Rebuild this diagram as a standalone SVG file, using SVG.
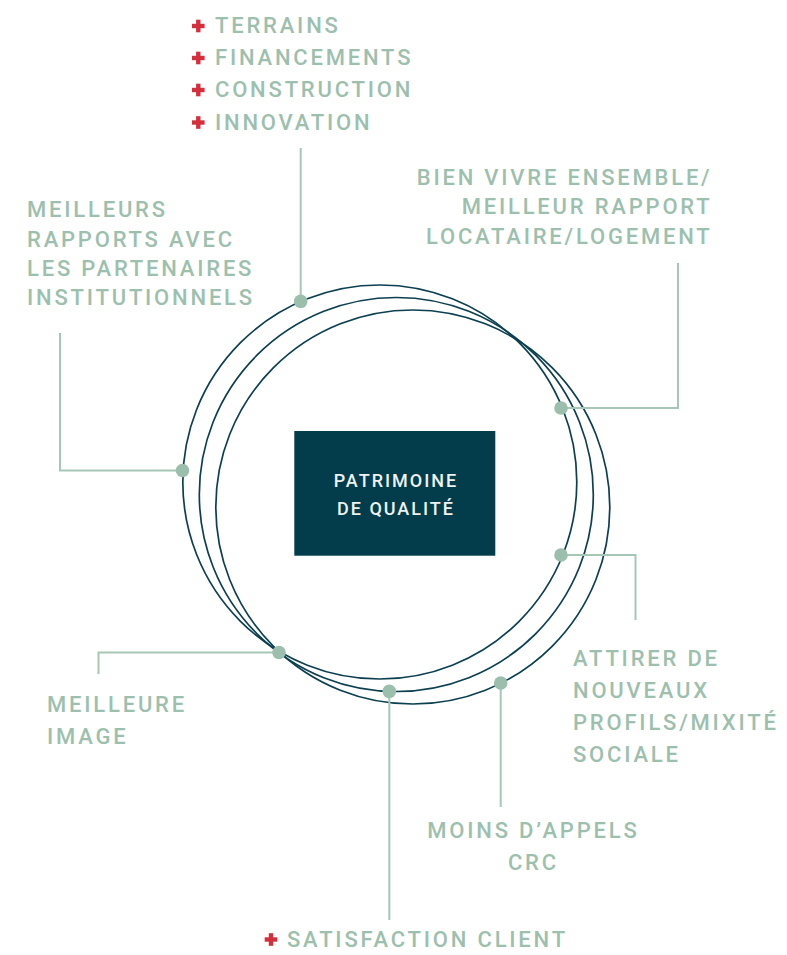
<svg xmlns="http://www.w3.org/2000/svg" width="787" height="955" viewBox="0 0 787 955">
<defs>
<style>
.lbl{font-family:Roboto,"Liberation Sans",sans-serif;font-weight:500;font-size:22px;fill:#9dc0ae;letter-spacing:2.8px}
.box{font-family:Roboto,"Liberation Sans",sans-serif;font-weight:500;font-size:18px;fill:#eef2f1;letter-spacing:2px}
.ring{fill:none;stroke:#0c4050;stroke-width:1.7}
.con{fill:none;stroke:#a6c7b6;stroke-width:2}
.dot{fill:#9cbfad}
</style>
<g id="plus"><rect x="-6.3" y="-2.2" width="12.6" height="4.4" fill="#d42f3c"/><rect x="-2.2" y="-6.3" width="4.4" height="12.6" fill="#d42f3c"/></g>
</defs>
<rect width="787" height="955" fill="#ffffff"/>
<g id="rings">
<circle class="ring" cx="379.8" cy="482" r="197"/>
<circle class="ring" cx="396.3" cy="494.5" r="197"/>
<circle class="ring" cx="412.8" cy="507" r="197"/>
</g>
<g id="connectors">
<polyline class="con" points="300.7,301.4 300.7,148"/>
<polyline class="con" points="182.5,470.5 60,470.5 60,333"/>
<polyline class="con" points="561,408 678,408 678,263"/>
<polyline class="con" points="561,555 635.5,555 635.5,620"/>
<polyline class="con" points="279,652.5 98.5,652.5 98.5,674"/>
<polyline class="con" points="389.3,691.4 389.3,920"/>
<polyline class="con" points="500.7,683 500.7,807"/>
<circle class="dot" cx="300.7" cy="301.4" r="6.8"/>
<circle class="dot" cx="182.5" cy="470.5" r="6.8"/>
<circle class="dot" cx="561" cy="408" r="6.8"/>
<circle class="dot" cx="561" cy="555" r="6.8"/>
<circle class="dot" cx="279" cy="652.5" r="6.8"/>
<circle class="dot" cx="389.3" cy="691.4" r="6.8"/>
<circle class="dot" cx="500.7" cy="683" r="6.8"/>
</g>
<g id="center">
<rect x="294.3" y="431" width="201" height="124.7" fill="#033c4b"/>
<text class="box" x="396" y="487" text-anchor="middle">PATRIMOINE</text>
<text class="box" x="396" y="515" text-anchor="middle">DE QUALITÉ</text>
</g>
<g id="top-list">
<use href="#plus" x="198.3" y="26"/>
<use href="#plus" x="198.3" y="58"/>
<use href="#plus" x="198.3" y="90"/>
<use href="#plus" x="198.3" y="122.5"/>
<text class="lbl" x="215" y="33">TERRAINS</text>
<text class="lbl" x="215" y="65">FINANCEMENTS</text>
<text class="lbl" x="215" y="97">CONSTRUCTION</text>
<text class="lbl" x="215" y="129.5">INNOVATION</text>
</g>
<g id="partenaires">
<text class="lbl" x="27" y="217">MEILLEURS</text>
<text class="lbl" x="27" y="247">RAPPORTS AVEC</text>
<text class="lbl" x="27" y="276">LES PARTENAIRES</text>
<text class="lbl" x="27" y="305">INSTITUTIONNELS</text>
</g>
<g id="vivre-ensemble">
<text class="lbl" x="712.5" y="185" text-anchor="end">BIEN VIVRE ENSEMBLE/</text>
<text class="lbl" x="712.5" y="214" text-anchor="end">MEILLEUR RAPPORT</text>
<text class="lbl" x="712.5" y="244" text-anchor="end">LOCATAIRE/LOGEMENT</text>
</g>
<g id="mixite">
<text class="lbl" x="573" y="666">ATTIRER DE</text>
<text class="lbl" x="573" y="697.5">NOUVEAUX</text>
<text class="lbl" x="573" y="729.5">PROFILS/MIXITÉ</text>
<text class="lbl" x="573" y="761.5">SOCIALE</text>
</g>
<g id="appels">
<text class="lbl" x="533.4" y="838" text-anchor="middle">MOINS D’APPELS</text>
<text class="lbl" x="533.4" y="870" text-anchor="middle">CRC</text>
</g>
<g id="image">
<text class="lbl" x="47" y="712">MEILLEURE</text>
<text class="lbl" x="47" y="743.5">IMAGE</text>
</g>
<g id="satisfaction">
<use href="#plus" x="271" y="939.5"/>
<text class="lbl" x="287" y="947">SATISFACTION CLIENT</text>
</g>
</svg>
